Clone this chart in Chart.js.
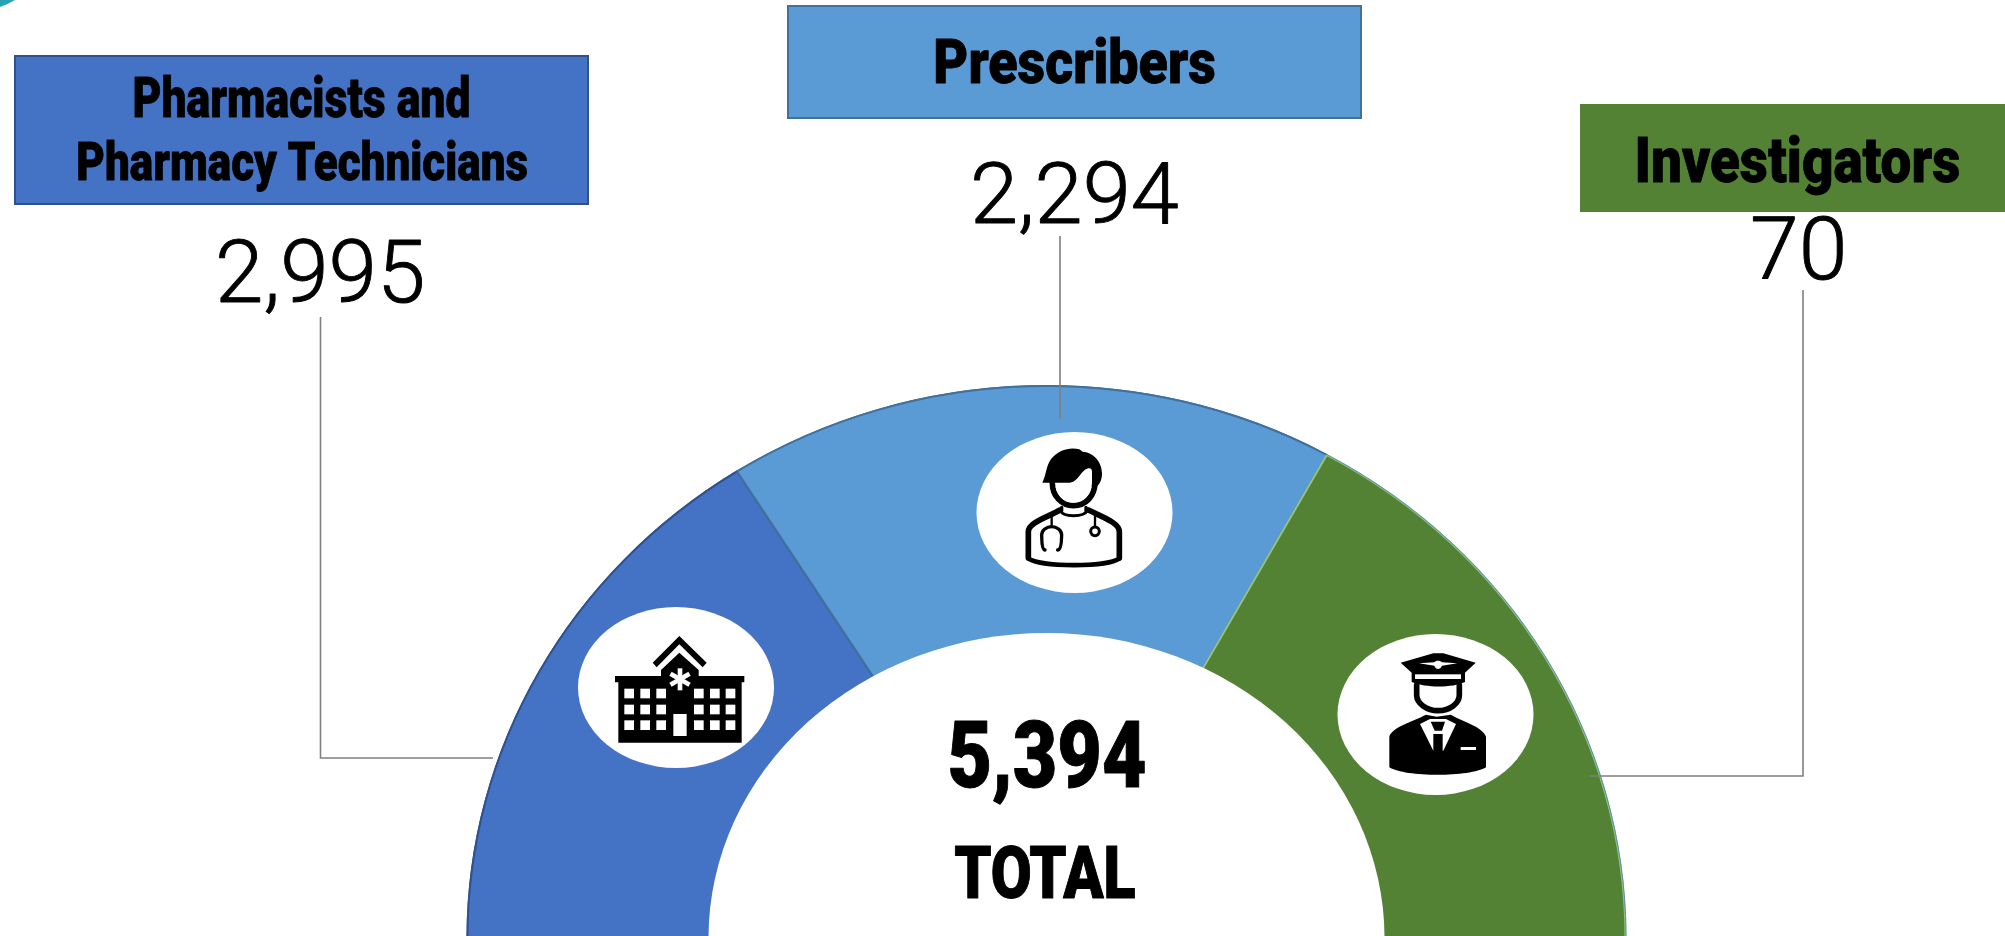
<!DOCTYPE html>
<html>
<head>
<meta charset="utf-8">
<style>html,body{margin:0;padding:0;background:#fff;overflow:hidden}canvas{display:block}</style>
<script src="https://cdn.jsdelivr.net/npm/chart.js@4"></script>
</head>
<body>
<canvas id="c" width="2005" height="936"></canvas>
<script>
// Categories and the figures printed on the picture
const categories = ["Pharmacists and Pharmacy Technicians", "Prescribers", "Investigators"];
const printedCounts = ["2,995", "2,294", "70"];
const totalPrinted = "5,394";
const totalLabel = "TOTAL";
// Arc span of each slice as drawn in the picture (degrees of the half ring)
const arcSpans = [57.7, 61.25, 61.05];
const sliceColors = ["#4472C4", "#5B9BD5", "#548235"];
const sliceBorders = ["#2F528F", "#41719C", "#93C47D"];
const edgeColors = ["#2F528F", "#41719C", "#5B8DB0"];

function fitText(ctx, text, left, right, baseline, capH, weight, family, extra) {
  ctx.save();
  const size = capH / 0.711;
  ctx.font = weight + " " + size + "px " + family;
  ctx.textBaseline = "alphabetic";
  ctx.textAlign = "left";
  ctx.fillStyle = "#000";
  const m = ctx.measureText(text);
  const w = m.actualBoundingBoxRight + m.actualBoundingBoxLeft;
  const sx = (right - left) / w;
  ctx.translate(left + m.actualBoundingBoxLeft * sx, baseline);
  ctx.scale(sx, 1);
  ctx.fillText(text, 0, 0);
  if (extra) { ctx.strokeStyle = "#000"; ctx.lineWidth = extra; ctx.lineJoin = "round"; ctx.strokeText(text, 0, 0); }
  ctx.restore();
}
function box(ctx, x0, y0, x1, y1, fill, stroke) {
  ctx.fillStyle = fill;
  ctx.fillRect(x0, y0, x1 - x0, y1 - y0);
  if (stroke) { ctx.strokeStyle = stroke; ctx.lineWidth = 2; ctx.strokeRect(x0 + 1, y0 + 1, x1 - x0 - 2, y1 - y0 - 2); }
}
function leader(ctx, pts) {
  ctx.save();
  ctx.strokeStyle = "#7f7f7f"; ctx.lineWidth = 1.6; ctx.beginPath();
  pts.forEach((p, i) => i ? ctx.lineTo(p[0], p[1]) : ctx.moveTo(p[0], p[1]));
  ctx.stroke(); ctx.restore();
}
function ellipse(ctx, x, y, rx, ry) {
  ctx.fillStyle = "#fff"; ctx.beginPath(); ctx.ellipse(x, y, rx, ry, 0, 0, Math.PI * 2); ctx.fill();
}
function P(ctx, d, fill) { ctx.fillStyle = fill; ctx.fill(new Path2D(d)); }
function S(ctx, d, color, w) { ctx.strokeStyle = color; ctx.lineWidth = w; ctx.lineCap = "round"; ctx.lineJoin = "round"; ctx.stroke(new Path2D(d)); }

function hospital(ctx) {
  ctx.save(); ctx.translate(560, 590); ctx.scale(1 / 3, 1 / 3);
  P(ctx, "M278 218L358 138L440 218L428 232L358 163L290 232Z", "#000");
  P(ctx, "M165 258H303V240L358 188L416 240V258H553V277H545V458H175V277H165Z", "#000");
  const cols = [193, 241, 289, 402, 450, 497], rows = [296, 344, 391];
  ctx.fillStyle = "#fff";
  rows.forEach(r => cols.forEach(c => ctx.fillRect(c, r, 29, 29)));
  ctx.fillRect(340, 372, 40, 66);
  ctx.strokeStyle = "#fff"; ctx.lineWidth = 14; ctx.lineCap = "butt";
  [90, 30, -30].forEach(a => {
    const r = a * Math.PI / 180, dx = Math.cos(r) * 33, dy = Math.sin(r) * 33;
    ctx.beginPath(); ctx.moveTo(360 - dx, 268 - dy); ctx.lineTo(360 + dx, 268 + dy); ctx.stroke();
  });
  ctx.restore();
}
function doctor(ctx) {
  ctx.save(); ctx.translate(960, 420); ctx.scale(1 / 3, 1 / 3);
  P(ctx, "M247 188C258 170 258 135 275 115C295 90 330 80 358 88L368 95C405 98 426 130 426 160C426 178 420 192 410 200L280 200L278 188Z", "#000");
  S(ctx, "M277 188C277 228 305 257 340 257C378 257 403 228 405 190", "#000", 17);
  P(ctx, "M285 188L328 188C355 188 362 150 385 145C393 144 396 148 396 155L396 190C394 222 372 248 340 248C310 248 286 222 285 188Z", "#fff");
  S(ctx, "M205 413V335C205 308 262 292 300 270M478 413V335C478 308 425 290 385 270", "#000", 17);
  S(ctx, "M205 416C245 442 440 442 478 416", "#000", 14);
  S(ctx, "M302 272C308 292 372 292 382 272", "#000", 9);
  S(ctx, "M305 262V272M378 262V272", "#000", 10);
  S(ctx, "M275 290V318", "#000", 7);
  S(ctx, "M255 390C243 388 246 352 245 345C245 330 260 320 275 320C290 320 305 330 305 345C304 352 307 388 293 390", "#000", 10);
  S(ctx, "M405 290V320", "#000", 7);
  ctx.strokeStyle = "#000"; ctx.lineWidth = 9; ctx.beginPath(); ctx.arc(405, 334, 13, 0, 7); ctx.stroke();
  ctx.restore();
}
function officer(ctx) {
  ctx.save(); ctx.translate(1320, 620); ctx.scale(1 / 3, 1 / 3);
  P(ctx, "M242 128L340 100H370L467 128L435 158V186C395 204 320 204 275 186V158Z", "#000");
  ctx.fillStyle = "#fff"; ctx.fillRect(285, 163, 138, 14);
  P(ctx, "M297 130L343 127C348 121 360 121 366 127L412 130L366 137C360 150 348 150 343 137Z", "#fff");
  S(ctx, "M290 195V225C290 250 320 272 354 272C390 272 418 250 418 225V195", "#000", 17);
  P(ctx, "M208 442V350C215 322 275 306 318 284L350 290L392 284C432 306 490 322 498 350V442C450 472 255 472 208 442Z", "#000");
  P(ctx, "M300 312L330 297H378L408 312L370 392H340Z", "#fff");
  P(ctx, "M332 305H375L366 332H344Z", "#000");
  P(ctx, "M340 342H368V394H340Z", "#000");
  ctx.fillStyle = "#fff"; ctx.fillRect(422, 381, 46, 9);
  ctx.restore();
}

// The reference ring is an ellipse centred just below the bottom edge of the picture:
// squash the library's arcs vertically around that centre, then lay the oval hole over them.
const CENTER_Y = 938, SQUASH = 0.9534;
const ringShape = {
  id: "ringShape",
  beforeDatasetsDraw(chart) {
    const ctx = chart.ctx;
    ctx.save();
    ctx.translate(0, CENTER_Y);
    ctx.scale(1, SQUASH);
    ctx.translate(0, -CENTER_Y);
  },
  afterDatasetsDraw(chart) {
    const ctx = chart.ctx;
    ctx.restore();
    ellipse(ctx, 1046.5, CENTER_Y, 338, 305);
  }
};

const decorations = {
  id: "decorations",
  afterDraw(chart) {
    const ctx = chart.ctx;
    const F = "Roboto";
    ctx.save();
    // corner sliver
    P(ctx, "M0 0H15C10 3 5 5 0 7Z", "#29a3b3");
    leader(ctx, [[320.5, 317], [320.5, 758], [493, 758]]);
    leader(ctx, [[1060, 236], [1060, 419]]);
    leader(ctx, [[1803, 290], [1803, 776], [1590, 776]]);
    box(ctx, 14, 55, 589, 205, sliceColors[0], sliceBorders[0]);
    box(ctx, 787, 5, 1362, 119, sliceColors[1], sliceBorders[1]);
    box(ctx, 1580, 104, 2005, 212, sliceColors[2], null);
    fitText(ctx, "Pharmacists and", 134, 469, 117, 39, 900, F, 0.8);
    fitText(ctx, "Pharmacy Technicians", 78, 527, 180, 38, 900, F, 0.8);
    fitText(ctx, categories[1], 936, 1215, 83, 43, 900, F, 0.8);
    fitText(ctx, categories[2], 1638, 1959, 182, 45, 900, F, 0.8);
    fitText(ctx, printedCounts[0], 219, 422, 302, 62, 300, F, 0.9);
    fitText(ctx, printedCounts[1], 974, 1178, 223, 60, 300, F, 0.9);
    fitText(ctx, printedCounts[2], 1753, 1843, 279, 62, 300, F, 0.9);
    fitText(ctx, totalPrinted, 950, 1145, 787, 66, 900, F, 1);
    fitText(ctx, totalLabel, 955, 1135, 898, 51, 900, F, 1);
    ellipse(ctx, 676, 687.5, 98, 80.5);
    ellipse(ctx, 1074.5, 512.5, 98, 80.5);
    ellipse(ctx, 1435.5, 714.5, 98, 80.5);
    hospital(ctx); doctor(ctx); officer(ctx);
    ctx.restore();
  }
};

new Chart(document.getElementById("c"), {
  type: "doughnut",
  data: {
    labels: categories,
    datasets: [
      { data: arcSpans, backgroundColor: edgeColors, borderWidth: 0, weight: 1 },
      { data: arcSpans, backgroundColor: sliceColors, borderColor: sliceBorders, borderWidth: 2, weight: 266 }
    ]
  },
  options: {
    responsive: false,
    animation: false,
    rotation: -90,
    circumference: 180,
    radius: 580,
    cutout: "54%",
    layout: { padding: { left: 88, top: 360, right: 0, bottom: 0 } },
    plugins: { legend: { display: false }, tooltip: { enabled: false } },
    events: []
  },
  plugins: [ringShape, decorations]
});
</script>
</body>
</html>
